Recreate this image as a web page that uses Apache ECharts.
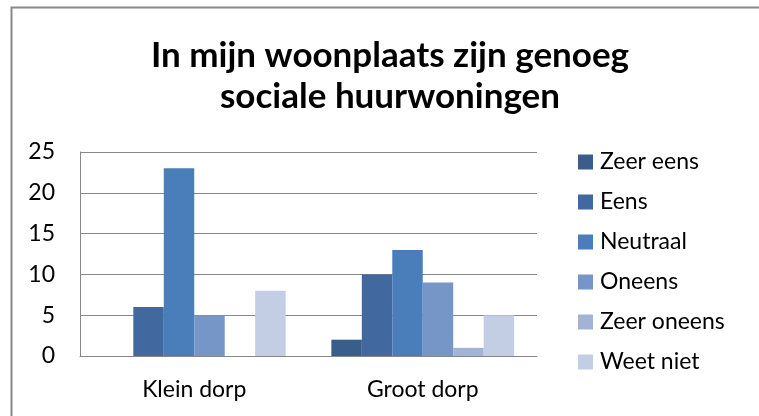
<!DOCTYPE html>
<html>
<head>
<meta charset="utf-8">
<script src="https://cdn.jsdelivr.net/npm/echarts@6/dist/echarts.min.js"></script>
<style>html,body{margin:0;padding:0;background:#fff}#c{width:759px;height:416px}</style>
</head>
<body>
<div id="c"></div>
<script>
const categories = ['Klein dorp', 'Groot dorp'];
const seriesNames = ['Zeer eens', 'Eens', 'Neutraal', 'Oneens', 'Zeer oneens', 'Weet niet'];
const zeerEens = [0, 2];
const eens = [6, 10];
const neutraal = [23, 13];
const oneens = [5, 9];
const zeerOneens = [0, 1];
const weetNiet = [8, 5];
const yTicks = [0, 5, 10, 15, 20, 25];
const colors = ['#3A5E8C', '#41699F', '#4A7EBB', '#7596C6', '#A2B4D6', '#C3CDE3'];
const values = [zeerEens, eens, neutraal, oneens, zeerOneens, weetNiet];

const font = 'Lato, "Open Sans", sans-serif';
const chart = echarts.init(document.getElementById('c'), null, {renderer: 'canvas'});
chart.setOption({
  animation: false,
  backgroundColor: '#fff',
  color: colors,
  title: {
    text: 'In mijn woonplaats zijn genoeg\nsociale huurwoningen',
    left: 385, textAlign: 'center', top: 30,
    textStyle: {fontFamily: font, fontWeight: 'bold', fontSize: 35, lineHeight: 41, color: '#000'}
  },
  legend: {
    orient: 'vertical', left: 573, top: 145,
    itemWidth: 15, itemHeight: 15, itemGap: 16,
    icon: 'rect',
    textStyle: {fontFamily: font, fontSize: 23, lineHeight: 24, color: '#000', padding: [0,0,0,2]},
    data: seriesNames
  },
  grid: {left: 80, right: 222, top: 152, bottom: 60, containLabel: false},
  xAxis: {
    type: 'category', data: categories,
    axisLine: {lineStyle: {color: '#888', width: 1}},
    axisTick: {show: false},
    axisLabel: {fontFamily: font, fontSize: 23, color: '#000', margin: 22}
  },
  yAxis: {
    type: 'value', min: yTicks[0], max: yTicks[yTicks.length-1], interval: 5,
    axisLine: {show: true, lineStyle: {color: '#888', width: 1}},
    axisTick: {show: false},
    splitLine: {lineStyle: {color: '#888', width: 1}},
    axisLabel: {fontFamily: font, fontSize: 23, color: '#000', margin: 25}
  },
  series: seriesNames.map((n, i) => ({
    name: n, type: 'bar', data: values[i],
    barGap: '0%', barCategoryGap: '20%',
    itemStyle: {color: colors[i]}
  })),
  graphic: [{
    type: 'rect', shape: {x: 11.5, y: 7.5, width: 800, height: 500},
    style: {fill: 'none', stroke: '#888', lineWidth: 2}, silent: true, z: 100
  }]
});
</script>
</body>
</html>
